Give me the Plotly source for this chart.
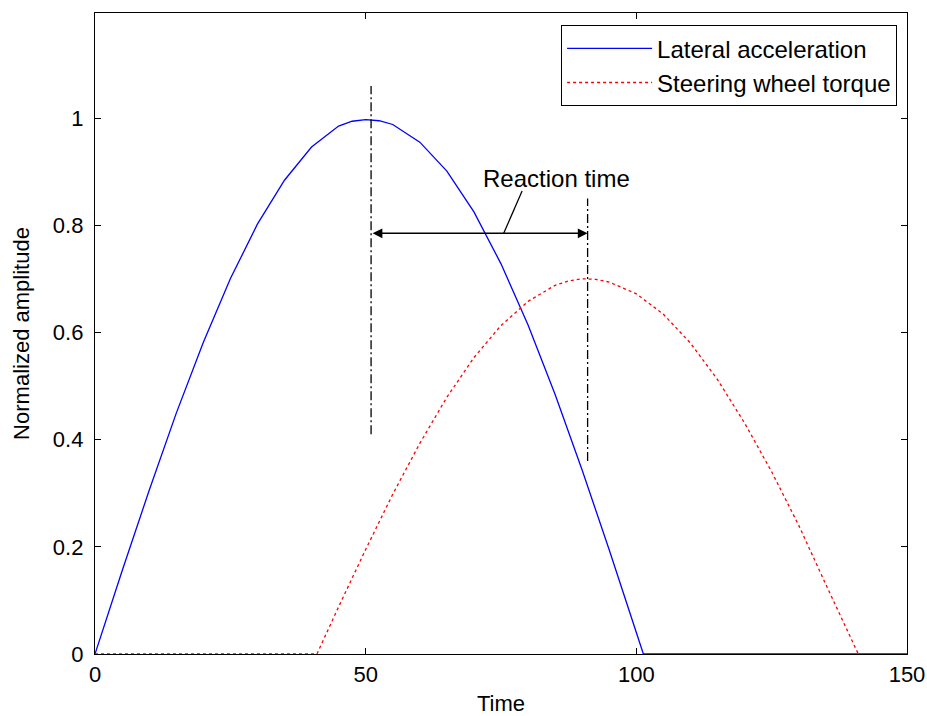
import plotly.graph_objects as go

# Lateral acceleration (blue)
lat_t = [0, 5, 10, 15, 20, 25, 30, 35, 40, 45, 47.5, 50, 52.5, 55, 60, 65, 70, 75, 80, 85, 90, 95, 100, 101.3, 150]
lat_v = [0, 0.155, 0.305, 0.449, 0.581, 0.700, 0.802, 0.884, 0.946, 0.985, 0.994, 0.997, 0.995, 0.988,
         0.955, 0.901, 0.825, 0.728, 0.614, 0.484, 0.343, 0.194, 0.040, 0, 0]

# Steering wheel torque (red)
swt_t = [0, 41, 45, 50, 55, 60, 65, 70, 75, 80, 85, 87.5, 90, 92.5, 95, 100, 105, 110, 115, 120, 125, 130,
         135, 140, 141]
swt_v = [0, 0, 0.088, 0.195, 0.298, 0.393, 0.479, 0.553, 0.613, 0.658, 0.688, 0.696, 0.700, 0.699, 0.694,
         0.672, 0.634, 0.580, 0.512, 0.431, 0.340, 0.240, 0.130, 0.022, 0]

# Peak markers (dash-dot verticals)
peak_t = [51, 91]
peak_lo = [0.41, 0.36]
peak_hi = [1.06, 0.85]
arrow_y = 0.785
label_t, label_v = 85.3, 0.888
leader_t = [78.9, 75.5]
leader_v = [0.864, arrow_y]

x_ticks = [0, 50, 100, 150]
y_ticks = [0, 0.2, 0.4, 0.6, 0.8, 1]
y_labels = ["0", "0.2", "0.4", "0.6", "0.8", "1"]

font = "Liberation Sans, Arial, sans-serif"

fig = go.Figure()
fig.add_trace(go.Scatter(x=lat_t, y=lat_v, mode="lines", name="Lateral acceleration",
                         line=dict(color="#0000ff", width=1.3)))
fig.add_trace(go.Scatter(x=swt_t, y=swt_v, mode="lines", name="Steering wheel torque",
                         line=dict(color="#ff0000", width=1.3, dash="3px,3px")))
for t, lo, hi in zip(peak_t, peak_lo, peak_hi):
    fig.add_trace(go.Scatter(x=[t, t], y=[lo, hi], mode="lines", showlegend=False,
                             line=dict(color="black", width=1.3, dash="9px,3px,2px,3px")))
fig.add_trace(go.Scatter(x=leader_t, y=leader_v, mode="lines", showlegend=False,
                         line=dict(color="black", width=1.3)))

fig.add_annotation(x=peak_t[1], y=arrow_y, ax=peak_t[0], ay=arrow_y, xref="x", yref="y",
                   axref="x", ayref="y", showarrow=True, arrowhead=2, arrowside="end+start",
                   arrowsize=1.4, arrowwidth=1.4, arrowcolor="black", text="")
fig.add_annotation(x=label_t, y=label_v, xref="x", yref="y", text="Reaction time",
                   showarrow=False, font=dict(family=font, size=24, color="black"))

fig.update_layout(
    width=927, height=716,
    margin=dict(l=95, r=20, t=13, b=62, autoexpand=False),
    paper_bgcolor="white", plot_bgcolor="white",
    font=dict(family=font, size=22, color="black"),
    legend=dict(x=0.574, y=0.981, xanchor="left", yanchor="top", bordercolor="black",
                borderwidth=1, bgcolor="white", font=dict(family=font, size=24),
                tracegroupgap=0, itemwidth=85),
    xaxis=dict(range=[0, 150], tickvals=x_ticks, ticks="inside", ticklen=6, tickcolor="black",
               showline=True, linecolor="black", linewidth=1.3, mirror="ticks", showgrid=False,
               zeroline=False, automargin=False,
               title=dict(text="Time", standoff=13, font=dict(size=22)),
               tickfont=dict(size=22)),
    yaxis=dict(range=[0, 1.196], tickvals=y_ticks, ticktext=y_labels, ticks="inside", ticklen=6,
               tickcolor="black", showline=True, linecolor="black", linewidth=1.3, mirror="ticks",
               showgrid=False, zeroline=False, ticklabelstandoff=6, automargin=False,
               title=dict(text="Normalized amplitude", standoff=17, font=dict(size=22)),
               tickfont=dict(size=22)),
)

fig.write_html("out.html", config={"displayModeBar": False},
               post_script="document.body.style.margin='0';document.body.style.overflow='hidden';")
